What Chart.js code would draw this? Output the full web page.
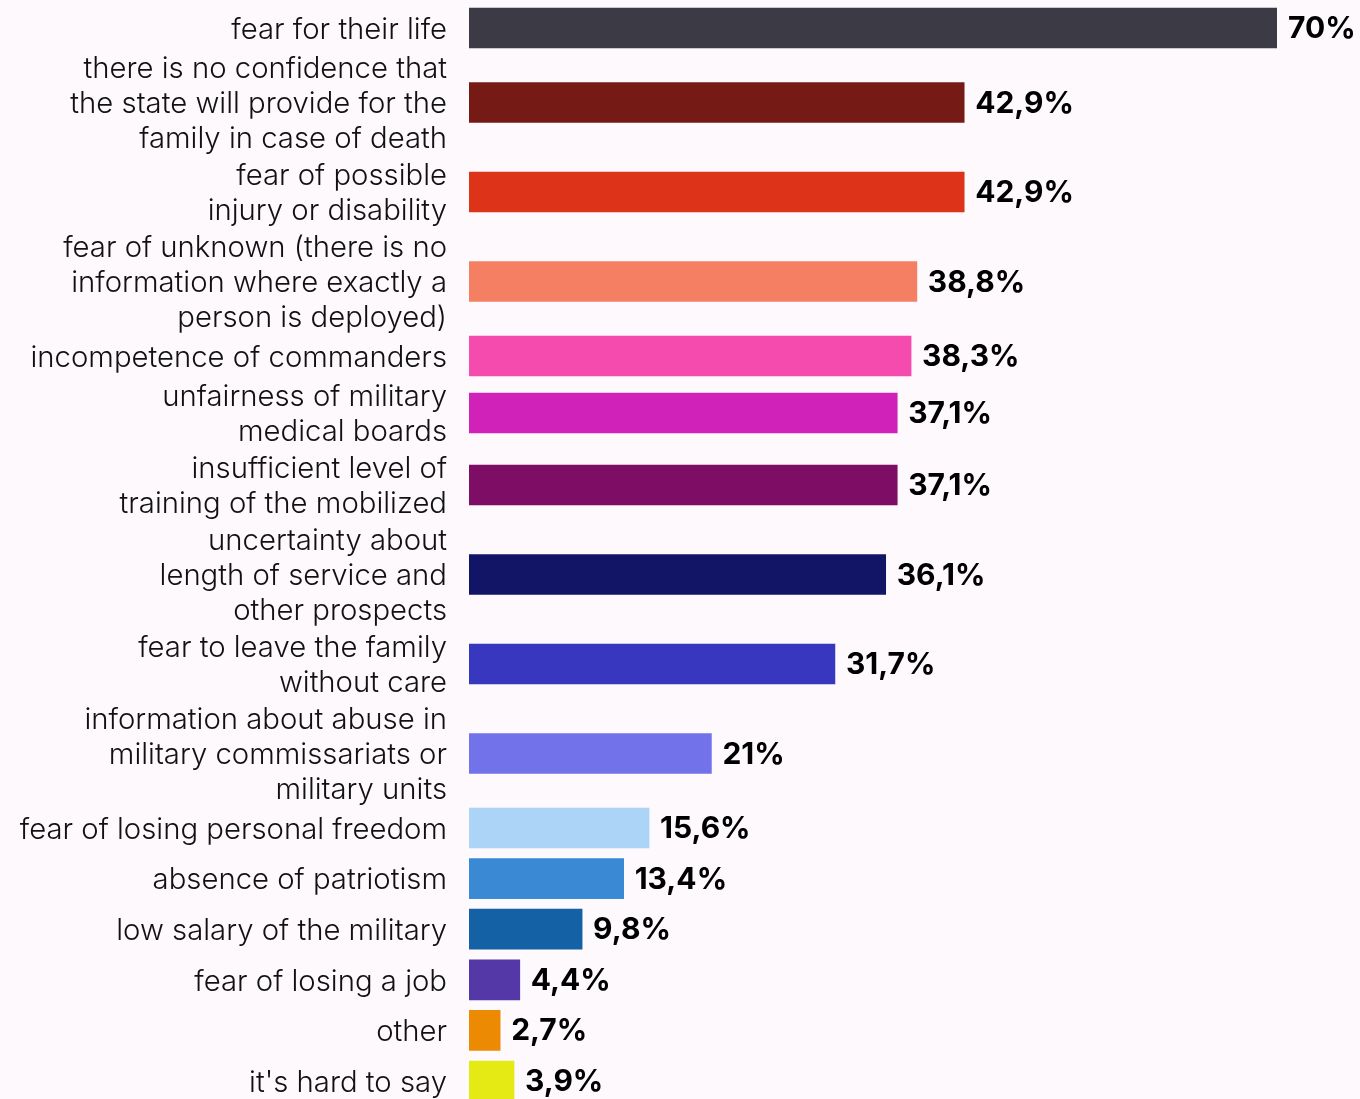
<!DOCTYPE html>
<html>
<head>
<meta charset="utf-8">
<script src="https://cdn.jsdelivr.net/npm/chart.js@4"></script>
<style>
  html, body { margin: 0; padding: 0; background: #fdf9fd; overflow: hidden; }
  #wrap { position: absolute; left: 0; top: 0; width: 1360px; height: 1110px; }
</style>
</head>
<body>
<div id="wrap"><canvas id="c"></canvas></div>
<script>
// ---- data ----
const categories = [
  ["fear for their life"],
  ["there is no confidence that", "the state will provide for the", "family in case of death"],
  ["fear of possible", "injury or disability"],
  ["fear of unknown (there is no", "information where exactly a", "person is deployed)"],
  ["incompetence of commanders"],
  ["unfairness of military", "medical boards"],
  ["insufficient level of", "training of the mobilized"],
  ["uncertainty about", "length of service and", "other prospects"],
  ["fear to leave the family", "without care"],
  ["information about abuse in", "military commissariats or", "military units"],
  ["fear of losing personal freedom"],
  ["absence of patriotism"],
  ["low salary of the military"],
  ["fear of losing a job"],
  ["other"],
  ["it's hard to say"]
];
const values = [70, 42.9, 42.9, 38.8, 38.3, 37.1, 37.1, 36.1, 31.7, 21, 15.6, 13.4, 9.8, 4.4, 2.7, 3.9];
const barColors = [
  "#3b3a45", "#761a16", "#dc3319", "#f47f63", "#f54aae", "#d022b8", "#7e0d66", "#121465",
  "#3737bf", "#7272ea", "#acd4f6", "#3a89d4", "#1461a5", "#5538a7", "#ec8a04", "#e5ea14"
];

// ---- layout derived from label line counts ----
const LINE_H = 35, BAR_H = 40, ROW_GAP = 2, MIN_STEP = 50.6, HALF_BAR = 25, LABEL_NUDGE = 2;
const extent = n => Math.max(n * LINE_H, BAR_H);
const positions = [];
categories.forEach((lines, i) => {
  if (i === 0) { positions.push(HALF_BAR); return; }
  const prev = categories[i - 1].length;
  const step = Math.max(MIN_STEP, (extent(prev) + extent(lines.length)) / 2 + ROW_GAP);
  positions.push(positions[i - 1] + step);
});
const yMax = positions[positions.length - 1] + HALF_BAR;

const points = values.map((v, i) => ({ x: v, y: positions[i] }));
const fmt = v => String(v).replace('.', ',') + '%';

const valueLabels = {
  id: 'valueLabels',
  afterDatasetsDraw(chart) {
    const ctx = chart.ctx;
    const meta = chart.getDatasetMeta(0);
    ctx.save();
    ctx.font = '700 30px Inter';
    ctx.fillStyle = '#000';
    ctx.textAlign = 'left';
    ctx.textBaseline = 'middle';
    meta.data.forEach((bar, i) => {
      ctx.fillText(fmt(values[i]), bar.x + 11, bar.y + 1);
    });
    ctx.restore();
  }
};

const TOP = 3;
const canvasH = 1110;

new Chart(document.getElementById('c'), {
  type: 'bar',
  data: {
    datasets: [{
      data: points,
      backgroundColor: barColors,
      borderWidth: 0,
      barThickness: BAR_H
    }]
  },
  options: {
    indexAxis: 'y',
    responsive: true,
    maintainAspectRatio: false,
    animation: false,
    devicePixelRatio: 1,
    layout: { padding: { top: TOP, bottom: canvasH - TOP - yMax, left: 0, right: 83 } },
    plugins: { legend: { display: false }, tooltip: { enabled: false } },
    scales: {
      x: { type: 'linear', min: 0, max: 70, display: false },
      y: {
        type: 'linear',
        reverse: true,
        offset: false,
        min: 0,
        max: yMax,
        grid: { display: false, drawTicks: false },
        border: { display: false },
        afterBuildTicks(scale) {
          scale.ticks = positions.map(p => ({ value: p + LABEL_NUDGE }));
        },
        afterFit(scale) {
          scale.width = 469;
          scale.paddingTop = 0;
          scale.paddingBottom = 0;
        },
        ticks: {
          autoSkip: false,
          padding: 22,
          color: '#111',
          font: { family: 'Inter', size: 29.3, weight: 300, lineHeight: '35px' },
          callback: (val, idx) => categories[idx]
        }
      }
    }
  },
  plugins: [valueLabels]
});
</script>
</body>
</html>
